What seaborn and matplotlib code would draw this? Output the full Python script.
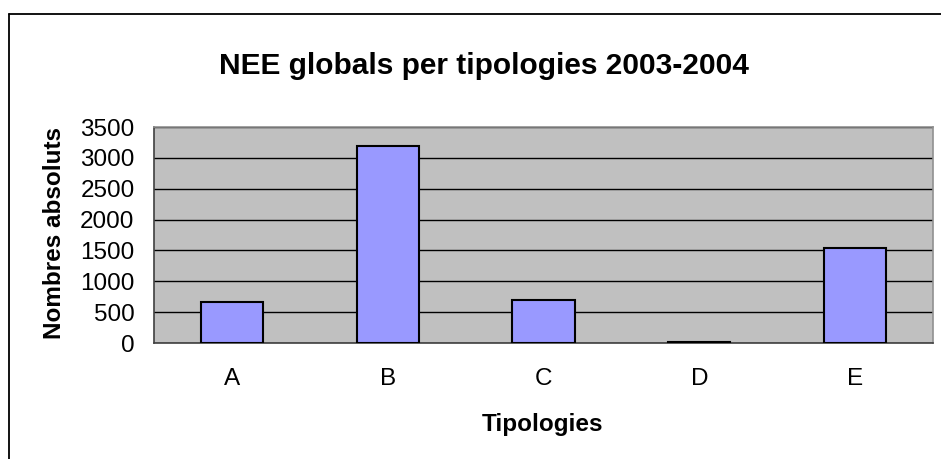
import matplotlib
matplotlib.use("Agg")
import matplotlib.pyplot as plt
import seaborn as sns
import pandas as pd
import numpy as np
from matplotlib.lines import Line2D
from matplotlib.ticker import FixedLocator

categories = ["A", "B", "C", "D", "E"]
values = [668, 3190, 695, 15, 1537]
yticks = [0, 500, 1000, 1500, 2000, 2500, 3000, 3500]

title = "NEE globals per tipologies 2003-2004"
xlabel = "Tipologies"
ylabel = "Nombres absoluts"

W, H = 941, 459

sns.set_style("white")
plt.rcParams['font.family'] = ['Liberation Sans', 'DejaVu Sans']
plt.rcParams['text.color'] = 'black'
plt.rcParams['axes.labelcolor'] = 'black'
plt.rcParams['xtick.color'] = 'black'
plt.rcParams['ytick.color'] = 'black'

df = pd.DataFrame({"cat": categories, "val": values})

fig = plt.figure(figsize=(W / 100, H / 100), dpi=100)
ax = fig.add_axes([154 / W, 1 - 343 / H, (933 - 154) / W, (343 - 127) / H])

sns.barplot(data=df, x="cat", y="val", ax=ax, color="#9999FF", width=0.4,
            edgecolor="black", linewidth=1.5, saturation=1, zorder=3)

ax.set_facecolor("#C0C0C0")
ax.set_ylim(0, 3500)
ax.set_xlim(-0.5, len(categories) - 0.5)
ax.set_yticks(yticks)
ax.set_yticklabels([str(v) for v in yticks], fontsize=17.5)
ax.yaxis.grid(True, color="black", linewidth=1.0, zorder=0)
ax.set_axisbelow(True)

ax.tick_params(axis="x", which="major", length=0, labelsize=17.5, pad=18)
ax.xaxis.set_minor_locator(FixedLocator(np.arange(-0.5, len(categories), 1.0)))
ax.tick_params(axis="x", which="minor", length=7, width=1, color="#404040", direction="out")
ax.tick_params(axis="y", which="major", length=6, width=1, color="#404040", direction="out", pad=8)

for side in ["left", "bottom"]:
    ax.spines[side].set_color("#404040")
    ax.spines[side].set_linewidth(1.2)
for side in ["top", "right"]:
    ax.spines[side].set_color("#909090")
    ax.spines[side].set_linewidth(1.2)

ax.set_xlabel(xlabel, fontsize=17.5, fontweight="bold")
ax.xaxis.label.set_va("baseline")
ax.xaxis.set_label_coords(543 / W, 1 - 430.7 / H, transform=fig.transFigure)

ax.set_ylabel(ylabel, fontsize=17.5, fontweight="bold")
ax.yaxis.label.set_va("baseline")
ax.yaxis.set_label_coords(61 / W, 1 - 233 / H, transform=fig.transFigure)

fig.text(483.5 / W, 1 - 73.5 / H, title, fontsize=21.5, fontweight="bold", ha="center", va="baseline")

fig.lines.append(Line2D([8.5 / W, 1.0], [1 - 13.5 / H, 1 - 13.5 / H], transform=fig.transFigure,
                        color="black", linewidth=1.3))
fig.lines.append(Line2D([8.5 / W, 8.5 / W], [0.0, 1 - 13.5 / H], transform=fig.transFigure,
                        color="black", linewidth=1.3))

fig.savefig("out.png", dpi=100)
